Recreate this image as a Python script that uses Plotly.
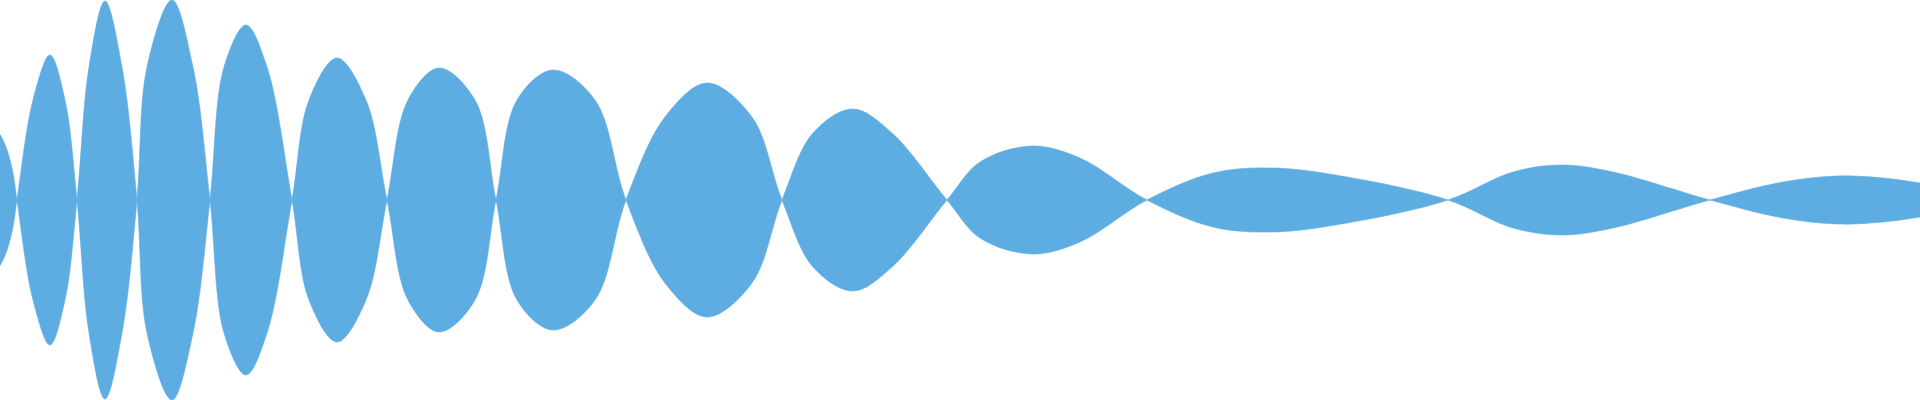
import plotly.graph_objects as go

# points read along the wave; sign flips at every pinch (value 0),
# the shape is filled between the wave and its mirror image
wave_x = [
    -1, 3, 8, 13, 17,
    33, 50, 65, 77,
    89, 105, 122, 137,
    147, 172, 193, 210,
    224, 246, 267, 292,
    309, 337, 366, 387,
    408, 439, 475, 496,
    517, 553, 595, 626,
    665, 707, 752, 782,
    813, 853, 892, 947,
    980, 1032, 1080, 1147,
    1213, 1273, 1347, 1448,
    1513, 1562, 1613, 1710,
    1783, 1837, 1883, 1920,
]
wave_y = [
    67, 60, 47, 27, 0,
    -100, -145, -100, 0,
    133, 199, 133, 0,
    -133, -200, -133, 0,
    133, 175, 133, 0,
    -100, -142, -100, 0,
    100, 132, 100, 0,
    -100, -130, -100, 0,
    83, 117, 83, 0,
    -67, -91, -67, 0,
    38, 54, 42, 0,
    -27, -32, -23, 0,
    28, 35, 28, 0,
    -18, -24, -22, -17,
]

color = '#5DADE2'
line_style = {'color': color, 'width': 0.6, 'shape': 'spline', 'smoothing': 1.0}

trace_wave = go.Scatter(x=wave_x, y=wave_y, mode='lines', line=line_style, hoverinfo='skip')
trace_mirror = go.Scatter(
    x=wave_x, y=[-v for v in wave_y], mode='lines', line=line_style,
    fill='tonexty', fillcolor=color, hoverinfo='skip'
)

layout = go.Layout(
    width=1920, height=400,
    margin=go.layout.Margin(l=0, r=0, t=0, b=0, pad=0),
    paper_bgcolor='white', plot_bgcolor='white',
    showlegend=False,
    xaxis=dict(range=[0, 1920], visible=False, fixedrange=True),
    yaxis=dict(range=[-200, 200], visible=False, fixedrange=True),
)
fig = go.Figure(data=[trace_wave, trace_mirror], layout=layout)
fig.write_html("out.html", config={'displayModeBar': False},
               post_script="document.body.style.margin='0';document.body.style.overflow='hidden';")
